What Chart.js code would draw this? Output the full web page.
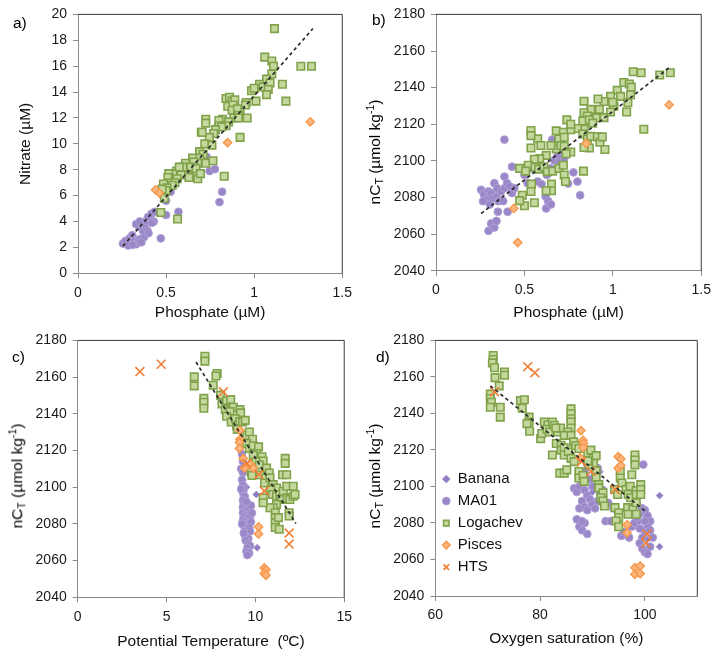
<!DOCTYPE html>
<html>
<head>
<meta charset="utf-8">
<script src="https://cdn.jsdelivr.net/npm/chart.js@4.4.1/dist/chart.umd.min.js"></script>
<style>
  html, body { margin:0; padding:0; background:#fff; }
  body { width:717px; height:652px; position:relative; overflow:hidden; font-family:"Liberation Sans", Arial, sans-serif; }
  .panel { position:absolute; }
  .lbl { position:absolute; font-size:15.5px; color:#000; line-height:1; }
  .ytitle { position:absolute; font-size:15.5px; color:#000; white-space:nowrap; transform:translate(-50%,-50%) rotate(-90deg); line-height:1; }
  .ytitle sub, .ytitle sup { font-size:0.68em; line-height:0; }
  .ytitle sub { vertical-align:-0.25em; }
  .ytitle sup { vertical-align:0.55em; }
</style>
</head>
<body>
<div class="panel" style="left:0;top:0;width:358px;height:326px"><canvas id="ca"></canvas></div>
<div class="panel" style="left:358px;top:0;width:359px;height:326px"><canvas id="cb"></canvas></div>
<div class="panel" style="left:0;top:326px;width:358px;height:326px"><canvas id="cc"></canvas></div>
<div class="panel" style="left:358px;top:326px;width:359px;height:326px"><canvas id="cd"></canvas></div>

<div class="lbl" style="left:13px;top:15px">a)</div>
<div class="lbl" style="left:372px;top:12px">b)</div>
<div class="lbl" style="left:12px;top:349px">c)</div>
<div class="lbl" style="left:376px;top:349px">d)</div>

<div class="ytitle" style="left:375px;top:152px">nC<sub>T</sub> (µmol kg<sup>-1</sup>)</div>
<div class="ytitle" style="left:17px;top:476px">nC<sub>T</sub> (µmol kg<sup>-1</sup>)</div>
<div class="ytitle" style="left:375px;top:476px">nC<sub>T</sub> (µmol kg<sup>-1</sup>)</div>

<script>
// ---------- Series names ----------
const seriesNames = ["Banana", "MA01", "Logachev", "Pisces", "HTS"];

// ---------- Panel a: Nitrate vs Phosphate ----------
const aMA01 = [[0.255,2.3],[0.27,2.5],[0.293,2.7],[0.285,2.15],[0.308,2.94],[0.319,2.5],[0.33,2.25],[0.345,2.6],[0.357,2.66],[0.375,2.8],[0.368,3.3],[0.345,3.6],[0.33,3.8],[0.38,3.8],[0.35,4.0],[0.387,4.05],[0.398,4.35],[0.417,4.6],[0.435,4.75],[0.43,4.0],[0.394,3.3],[0.47,2.7],[0.5,5.6],[0.5,4.5],[0.57,4.75],[0.526,6.3],[0.683,9.0],[0.71,9.0],[0.73,9.0],[0.668,8.75],[0.747,7.9],[0.777,8.05],[0.818,6.3],[0.803,5.5],[0.36,2.4],[0.31,2.2],[0.42,3.9],[0.4,3.1]];
const aLogachev = [[1.115,18.9],[1.06,16.7],[1.10,16.4],[1.11,16.0],[1.265,16.0],[1.325,16.0],[1.10,15.4],[1.07,15.0],[1.09,14.7],[1.03,14.6],[1.05,14.4],[1.08,14.2],[1.07,13.8],[1.16,14.6],[1.18,13.3],[0.985,14.1],[1.0,14.3],[1.01,13.3],[0.955,13.2],[0.95,13.0],[0.92,12.6],[0.96,12.0],[0.92,10.5],[0.84,13.5],[0.86,13.6],[0.875,13.3],[0.89,13.4],[0.85,12.9],[0.88,13.0],[0.875,12.6],[0.905,12.7],[0.91,12.2],[0.885,12.0],[0.91,12.0],[0.82,11.9],[0.855,11.7],[0.80,11.8],[0.84,11.4],[0.80,11.4],[0.815,11.3],[0.78,11.1],[0.725,11.9],[0.725,11.6],[0.77,10.8],[0.745,10.5],[0.72,10.0],[0.76,9.9],[0.70,10.9],[0.705,10.9],[0.69,9.4],[0.71,9.2],[0.69,8.9],[0.725,8.5],[0.68,8.5],[0.766,8.7],[0.65,8.9],[0.657,8.6],[0.62,8.0],[0.61,7.8],[0.657,7.5],[0.68,7.3],[0.63,7.4],[0.56,7.9],[0.54,7.7],[0.585,7.6],[0.563,7.3],[0.515,7.7],[0.51,7.4],[0.52,7.0],[0.55,7.0],[0.535,6.8],[0.485,6.9],[0.505,6.6],[0.50,6.4],[0.477,6.5],[0.49,5.8],[0.47,4.7],[0.565,4.2],[0.83,7.5],[0.61,8.5],[0.64,8.2],[0.595,8.2],[0.67,8.1],[0.695,7.7],[0.575,8.2]];
const aPisces = [[0.44,6.45],[0.462,6.2],[0.849,10.1],[1.318,11.7]];
const aTrend = [[0.255,2.1],[1.333,18.9]];

// ---------- Panel b: nCT vs Phosphate ----------
const bMA01 = [[0.255,2084.2],[0.27,2081.9],[0.297,2083.3],[0.312,2082.4],[0.319,2079.8],[0.342,2080.6],[0.285,2078.9],[0.266,2078.0],[0.304,2076.2],[0.353,2078.0],[0.38,2078.0],[0.33,2087.8],[0.345,2085.1],[0.368,2083.3],[0.387,2085.1],[0.387,2091.4],[0.402,2087.8],[0.417,2086.0],[0.43,2082.4],[0.443,2085.1],[0.387,2111.6],[0.43,2096.8],[0.297,2061.8],[0.312,2065.8],[0.33,2063.6],[0.342,2067.2],[0.35,2072.2],[0.405,2072.2],[0.5,2092.3],[0.518,2087.8],[0.575,2088.7],[0.597,2087.3],[0.627,2092.3],[0.65,2095.9],[0.668,2100.3],[0.687,2103.0],[0.71,2105.2],[0.68,2106.6],[0.657,2111.6],[0.698,2099.4],[0.725,2101.2],[0.62,2080.5],[0.634,2078.0],[0.623,2074.0],[0.65,2076.2],[0.747,2087.6],[0.777,2093.7],[0.80,2088.7],[0.815,2081.2],[0.537,2095.9],[0.59,2101.2]];
const bLogachev = [[1.115,2148.7],[1.16,2148.1],[1.265,2146.9],[1.325,2148.1],[1.062,2142.8],[1.093,2142.0],[1.104,2140.3],[1.025,2138.5],[0.987,2135.2],[1.044,2135.2],[1.1,2136.1],[1.006,2129.9],[0.987,2126.7],[1.085,2131.7],[1.078,2126.7],[0.999,2132.0],[0.95,2132.4],[0.916,2133.8],[0.924,2128.1],[0.875,2128.1],[0.905,2123.4],[0.95,2123.6],[0.837,2132.6],[0.837,2126.3],[0.856,2124.5],[0.83,2121.8],[0.867,2122.4],[0.886,2120.6],[0.837,2117.3],[0.80,2117.7],[0.762,2117.0],[0.74,2122.4],[0.762,2120.0],[0.68,2116.4],[0.72,2115.6],[0.695,2112.0],[0.725,2112.9],[0.537,2116.6],[0.575,2112.0],[0.537,2113.8],[0.593,2108.4],[0.537,2107.0],[0.68,2106.6],[0.65,2108.4],[0.706,2108.4],[0.725,2108.0],[0.762,2104.8],[0.736,2103.9],[0.623,2103.0],[0.586,2101.2],[0.556,2100.9],[0.522,2097.6],[0.473,2095.9],[0.507,2094.4],[0.56,2096.6],[0.58,2095.5],[0.61,2096.8],[0.63,2094.1],[0.66,2094.4],[0.695,2095.9],[0.72,2097.6],[0.725,2092.3],[0.732,2088.7],[0.653,2087.3],[0.653,2083.7],[0.623,2083.7],[0.54,2087.3],[0.537,2083.3],[0.488,2081.2],[0.5,2075.5],[0.556,2077.1],[0.473,2078.3],[0.83,2114.7],[0.856,2112.0],[0.867,2107.0],[0.875,2113.4],[0.912,2113.1],[0.927,2110.2],[0.94,2113.1],[0.955,2106.2],[0.837,2107.3],[0.834,2094.4],[1.175,2117.3]];
const bPisces = [[0.44,2074.0],[0.462,2055.4],[0.849,2109.5],[1.318,2130.6]];
const bTrend = [[0.255,2071.2],[1.325,2151.4]];

// ---------- Panel c: nCT vs Potential Temperature ----------
const cBanana = [[10.05,2096],[10.1,2067],[9.85,2086],[9.6,2085],[9.7,2080],[9.5,2100],[9.4,2110],[9.55,2066]];
const cMA01 = [[9.25,2118],[9.3,2114],[9.2,2110],[9.3,2108],[9.25,2104],[9.3,2101],[9.35,2099],[9.3,2097],[9.4,2095],[9.3,2093],[9.35,2091],[9.45,2090],[9.3,2089],[9.4,2088],[9.5,2087],[9.3,2086],[9.45,2085],[9.6,2085],[9.35,2084],[9.5,2083],[9.7,2084],[9.3,2082],[9.45,2081],[9.6,2080],[9.75,2081],[9.35,2079],[9.5,2078],[9.65,2078],[9.4,2076],[9.55,2075],[9.7,2076],[9.4,2074],[9.5,2073],[9.6,2072],[9.45,2071],[9.6,2069],[9.7,2068],[9.55,2067],[9.5,2065],[9.65,2064],[9.55,2063],[9.8,2086],[9.75,2090],[9.2,2099],[9.5,2092],[9.25,2080],[9.35,2075]];
const cLogachev = [[6.56,2160.1],[6.56,2155.2],[7.16,2171.4],[7.16,2168.7],[7.85,2162],[7.78,2160.6],[7.63,2155.6],[7.1,2148.4],[7.1,2146.3],[7.1,2143],[8.04,2150.2],[8.12,2145.4],[8.38,2147.2],[8.61,2147.7],[8.31,2142.3],[8.76,2143.6],[8.57,2141.2],[8.38,2138.7],[9.13,2142.3],[9.17,2140.5],[8.64,2135.5],[8.87,2137.3],[8.94,2133.7],[9.13,2135.8],[9.28,2135.5],[9.43,2136.4],[8.98,2131.5],[9.51,2128.3],[9.66,2130.1],[9.84,2126.1],[9.51,2123.8],[9.66,2121.1],[9.88,2122.6],[10.18,2122],[10.07,2118.4],[10.37,2116.6],[10.44,2114.3],[9.88,2117.5],[10.03,2113.9],[10.22,2112.1],[10.63,2110.4],[10.78,2107.7],[9.77,2108.2],[9.81,2106.4],[10.26,2106.8],[10.59,2105],[10.52,2102.3],[10.82,2105],[11.0,2101.4],[11.19,2099.6],[10.86,2098.7],[10.97,2096],[11.19,2095.1],[11.38,2096],[11.57,2097.8],[11.49,2093.3],[11.76,2100.5],[12.13,2100.5],[11.79,2094.2],[11.94,2093.3],[12.13,2095.1],[12.23,2096],[11.68,2115.7],[11.68,2113],[11.53,2106.8],[11.76,2106.8],[11.19,2090.6],[11.0,2088.8],[10.82,2088.8],[11.12,2086.1],[11.12,2083.4],[11.12,2080.7],[11.12,2078],[11.3,2083.4],[11.34,2077.1],[11.9,2086.1],[11.9,2084.3],[10.44,2094.2],[10.44,2091.5]];
const cPisces = [[9.13,2131],[9.13,2126.1],[9.1,2124.4],[9.1,2121.1],[9.32,2115.7],[9.39,2110.4],[9.73,2112.5],[9.88,2110.4],[10.18,2078.4],[10.18,2074.5],[10.5,2056],[10.6,2055],[10.5,2053],[10.6,2052]];
const cHTS = [[3.5,2163],[4.7,2167],[8.2,2152],[9.5,2113],[10.2,2107],[10.5,2098],[11.9,2075],[11.9,2069]];
const cTrend = [[6.66,2168.2],[12.28,2080.2]];

// ---------- Panel d: nCT vs Oxygen saturation ----------
const dBanana = [[102.8,2095],[102.8,2067],[91.4,2108],[90,2097],[92.5,2089],[96,2073],[99,2081],[100.5,2071]];
const dMA01 = [[86.5,2099],[87,2097],[87.5,2100],[88,2103],[88.5,2098],[89,2095],[89.5,2093],[88,2092],[87.5,2088],[88.5,2089],[89,2087],[90,2090],[90.5,2088],[91,2092],[91.5,2096],[92,2098],[90,2100],[89.5,2104],[90.5,2107],[91,2110],[89,2112],[88.5,2108],[87,2082],[87.5,2078],[88,2076],[88.5,2080],[89,2074],[88,2081],[92.5,2081],[93.5,2081],[95.5,2073],[96,2075],[97,2072],[97.5,2078],[98,2080],[98.5,2083],[99,2085],[99.5,2088],[100,2087],[100.5,2084],[101,2081],[100.5,2078],[100,2075],[99.5,2072],[99,2069],[99.5,2066],[100,2064],[100.5,2063],[101,2067],[101.5,2072],[98.5,2090],[99,2077],[100,2081],[101,2076],[99.7,2112],[93,2091],[94,2088]];
const dLogachev = [[71.05,2171.7],[71.05,2169.5],[70.9,2167.7],[71.3,2165],[71.4,2159.6],[70.5,2150.6],[70.5,2148.2],[70.7,2146.1],[70.5,2143.4],[72.2,2155.1],[72.4,2143.4],[72.4,2138],[73.2,2162.7],[73.2,2160.9],[76.25,2147],[77.0,2147.5],[76.6,2142.8],[77.9,2138],[77.9,2135.3],[77.5,2134.4],[78.0,2130.2],[80.1,2126.2],[80.3,2129],[80.8,2135.3],[81.5,2133.8],[81.3,2131.3],[81.8,2129.8],[82.35,2135.3],[82.7,2133.5],[83.4,2129.8],[83.9,2132],[83.0,2132],[82.35,2117.2],[83.1,2123.5],[84.0,2122.6],[84.0,2119.9],[84.6,2121.2],[84.6,2117.2],[85.4,2119],[83.75,2107.3],[84.6,2107.3],[85.1,2109.1],[85.9,2142.5],[85.9,2139.8],[85.9,2137.1],[85.9,2135.3],[85.9,2132],[85.3,2129.8],[84.6,2128],[85.9,2128],[86.4,2124.4],[86.8,2122.3],[87.4,2120.8],[85.9,2115.4],[86.5,2113.6],[87.4,2108.2],[87.4,2104.6],[88.2,2106],[88.4,2102.8],[89.1,2118.1],[89.7,2119.9],[90.1,2115.4],[90.2,2112.7],[89.3,2111.8],[89.1,2114],[90.7,2116.9],[90.7,2108.6],[90.7,2105],[91.2,2101],[91.2,2099.2],[92,2096.5],[91.6,2093.8],[92,2092],[92.3,2089.3],[95.3,2108.2],[95.3,2104.6],[95.6,2101.9],[94.2,2098.3],[94.8,2095.6],[94.3,2088.4],[95,2085.6],[95,2083],[94.5,2081.1],[95,2077.9],[96.4,2098.3],[97.2,2100.1],[96.8,2095.6],[97.3,2093.8],[96.7,2088.4],[97.7,2087.5],[96.8,2084.8],[98.35,2097.7],[98.35,2095.6],[98.1,2117.2],[98.1,2114.5],[98.1,2111.8],[97.5,2106.4],[99.2,2101],[99.2,2098.3],[99.2,2095.6],[98.35,2091.1],[98.35,2084.8]];
const dPisces = [[87.8,2130.6],[88.2,2125.3],[88.3,2123.5],[88.2,2121.2],[87.6,2115.8],[94.9,2116.3],[95.4,2115.1],[94.9,2110.0],[95.4,2111.5],[96.6,2079.0],[96.6,2074.6],[98.1,2055.5],[99.1,2056.4],[98.1,2051.9],[99.1,2052.3]];
const dHTS = [[77.65,2165.6],[79.0,2162.3],[71.3,2151.9],[87.9,2113.6],[89.7,2108.2],[94.3,2098.3],[100.4,2074],[100.2,2069]];
const dTrend = [[70.5,2155.1],[100,2086.6]];

// ---------- styling ----------
const FONT = '"Liberation Sans", Arial, sans-serif';
const pts = arr => arr.map(p => ({x: p[0], y: p[1]}));
const styles = {
  Banana:   {pointStyle:'rectRot', pointRadius:3.4, backgroundColor:'#8f7bc2', borderColor:'#a594d0', pointBorderWidth:1, order:5},
  MA01:     {pointStyle:'circle', pointRadius:3.9, backgroundColor:'#9a87c8', borderColor:'#ae9fd6', pointBorderWidth:1, order:4},
  Logachev: {pointStyle:'rect', pointRadius:5.3, backgroundColor:'#c5d99f', borderColor:'#7fa24a', pointBorderWidth:1.6, order:3},
  Pisces:   {pointStyle:'rectRot', pointRadius:4.2, backgroundColor:'#fbb57e', borderColor:'#f79646', pointBorderWidth:1.3, order:2},
  HTS:      {pointStyle:'crossRot', pointRadius:6.3, backgroundColor:'#f07f35', borderColor:'#f07f35', pointBorderWidth:1.6, order:1}
};
function ds(name, arr) {
  const s = styles[name];
  return Object.assign({label:name, data:pts(arr), showLine:false, pointHoverRadius:s.pointRadius}, s);
}
function trend(arr) {
  return {label:'trend', data:pts(arr), showLine:true, borderColor:'#2b2b2b', borderWidth:1.7, borderDash:[3.5,3], pointRadius:0, order:0, fill:false};
}

const boxPlugin = {
  id:'box',
  beforeDatasetsDraw(chart) {
    const {ctx, chartArea:a} = chart;
    ctx.save();
    ctx.strokeStyle = '#3a3a3a';
    ctx.lineWidth = 1;
    ctx.beginPath();
    ctx.moveTo(a.left, a.top); ctx.lineTo(a.right, a.top); ctx.lineTo(a.right, a.bottom);
    ctx.stroke();
    ctx.restore();
  }
};

function makeChart(id, cfg) {
  const canvas = document.getElementById(id);
  const W = canvas.parentNode.clientWidth, H = canvas.parentNode.clientHeight;
  const tickFont = {family:FONT, size:14};
  const titleFont = {family:FONT, size:15.5};
  return new Chart(canvas, {
    type:'scatter',
    data:{datasets:cfg.datasets},
    plugins:[boxPlugin],
    options:{
      responsive:true, maintainAspectRatio:false, animation:false,
      layout:{padding:{left:0, top:cfg.top, right:W - cfg.right, bottom:0}},
      plugins:{
        tooltip:{enabled:false},
        legend: cfg.legend ? {
          display:true, position:'chartArea', align:'end',
          labels:{usePointStyle:true, boxWidth:8, boxHeight:5.5, padding:7, color:'#111',
                  font:{family:FONT, size:15},
                  filter:(item) => item.text !== 'trend',
                  sort:(a, b) => a.datasetIndex - b.datasetIndex}
        } : {display:false}
      },
      scales:{
        x:{
          type:'linear', min:cfg.xmin, max:cfg.xmax,
          afterFit:(s) => { s.height = H - cfg.bottom; },
          grid:{display:true, drawOnChartArea:false, drawTicks:true, tickLength:5, color:'#8a8a8a'},
          border:{display:true, color:'#8a8a8a', width:1},
          ticks:{stepSize:cfg.xstep, includeBounds:false, padding:6, color:'#1a1a1a', font:tickFont, maxRotation:0,
                 callback:(v) => String(Math.round(v*100)/100)},
          title:{display:true, text:cfg.xtitle, color:'#111', font:titleFont, padding:{top:0, bottom:cfg.xtpad}}
        },
        y:{
          type:'linear', min:cfg.ymin, max:cfg.ymax,
          afterFit:(s) => { s.width = cfg.left; },
          grid:{display:true, drawOnChartArea:false, drawTicks:true, tickLength:5, color:'#8a8a8a'},
          border:{display:true, color:'#8a8a8a', width:1},
          ticks:{stepSize:cfg.ystep, includeBounds:false, padding:6, color:'#1a1a1a', font:tickFont,
                 callback:(v) => String(v)},
          title:cfg.ytitle ? {display:true, text:cfg.ytitle, color:'#111', font:titleFont, padding:{top:16.5, bottom:0}} : {display:false}
        }
      }
    }
  });
}

makeChart('ca', {
  datasets:[trend(aTrend), ds('MA01', aMA01), ds('Logachev', aLogachev), ds('Pisces', aPisces)],
  left:78, top:12.7, right:344, bottom:273.3, xtpad:3.7,
  xmin:0, xmax:1.5, xstep:0.5, ymin:0, ymax:20, ystep:2,
  xtitle:'Phosphate (µM)', ytitle:'Nitrate (µM)'
});
makeChart('cb', {
  datasets:[trend(bTrend), ds('MA01', bMA01), ds('Logachev', bLogachev), ds('Pisces', bPisces)],
  left:78, top:10, right:344, bottom:270.7, xtpad:3.7,
  xmin:0, xmax:1.5, xstep:0.5, ymin:2040, ymax:2180, ystep:20,
  xtitle:'Phosphate (µM)'
});
makeChart('cc', {
  datasets:[trend(cTrend), ds('Banana', cBanana), ds('MA01', cMA01), ds('Logachev', cLogachev), ds('Pisces', cPisces), ds('HTS', cHTS)],
  left:77.7, top:11.3, right:344.3, bottom:271.3, xtpad:1,
  xmin:0, xmax:15, xstep:5, ymin:2040, ymax:2180, ystep:20,
  xtitle:'Potential Temperature  (ºC)'
});
makeChart('cd', {
  datasets:[trend(dTrend), ds('Banana', dBanana), ds('MA01', dMA01), ds('Logachev', dLogachev), ds('Pisces', dPisces), ds('HTS', dHTS)],
  left:77.3, top:11.3, right:339.3, bottom:270, xtpad:3.7,
  xmin:60, xmax:110, xstep:20, ymin:2040, ymax:2180, ystep:20,
  xtitle:'Oxygen saturation (%)', legend:true
});
</script>
</body>
</html>
